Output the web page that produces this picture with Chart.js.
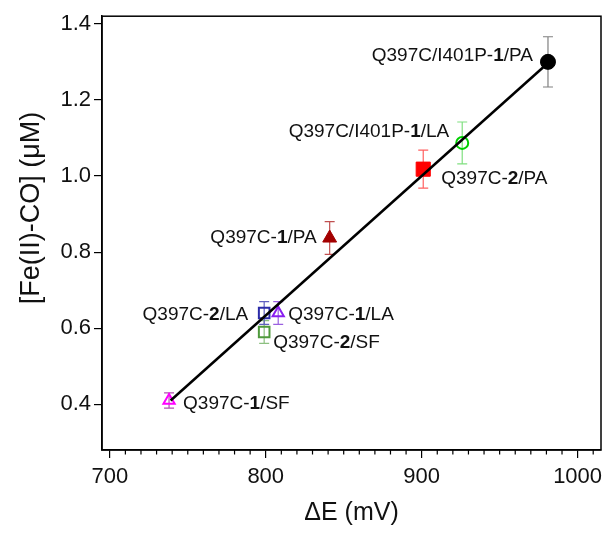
<!DOCTYPE html>
<html>
<head>
<meta charset="utf-8">
<script src="https://cdn.jsdelivr.net/npm/chart.js@4"></script>
<style>
  html, body { margin: 0; padding: 0; background: #fff; }
  #wrap { width: 612px; height: 536px; }
</style>
</head>
<body>
<div id="wrap"><canvas id="feChart" width="612" height="536"></canvas></div>
<script>
// data
const names = ['Q397C-1/SF', 'Q397C-2/SF', 'Q397C-2/LA', 'Q397C-1/LA', 'Q397C-1/PA', 'Q397C-2/PA', 'Q397C/I401P-1/LA', 'Q397C/I401P-1/PA'];
const deltaE = [738, 799, 799, 808, 841, 901, 926, 981];
const feCO = [0.41, 0.59, 0.64, 0.64, 0.837, 1.018, 1.087, 1.30];
const feErr = [0.02, 0.03, 0.03, 0.03, 0.043, 0.05, 0.055, 0.066];
const fitX = [739, 981];
const fitY = [0.41, 1.297];
const xTickValues = [700, 800, 900, 1000];
const yTickValues = [0.4, 0.6, 0.8, 1.0, 1.2, 1.4];

// marker looks, one per point
const markers = [
    { style: 'triangle', color: '#ff00ff', fill: false, r: 6.5, bar: '#b050b0' },
    { style: 'rect', color: '#4f9a3c', fill: false, r: 7.5, bar: '#8cc080' },
    { style: 'rect', color: '#2b2ba8', fill: false, r: 7.5, bar: '#6060c0' },
    { style: 'triangle', color: '#8a1ff0', fill: false, r: 6.5, bar: '#9a60e0' },
    { style: 'triangle', color: '#a30000', fill: true, r: 8, bar: '#c05050' },
    { style: 'rect', color: '#ff0000', fill: true, r: 10, bar: '#ff6060' },
    { style: 'circle', color: '#00d000', fill: false, r: 6, bar: '#80e080' },
    { style: 'circle', color: '#000000', fill: true, r: 7.5, bar: '#808080' }
];
// label placement relative to its point (px)
const labelPos = [
    { dx: 14, dy: 3, align: 'left' },
    { dx: 9, dy: 11, align: 'left' },
    { dx: -16, dy: 2, align: 'right' },
    { dx: 10, dy: 2, align: 'left' },
    { dx: -13, dy: 0, align: 'right' },
    { dx: 18, dy: 10, align: 'left' },
    { dx: -13, dy: -11, align: 'right' },
    { dx: -15, dy: -6, align: 'right' }
];

const FONT = "'Liberation Sans', Arial, sans-serif";

const pointSets = names.map((name, i) => ({
    label: name,
    data: [{ x: deltaE[i], y: feCO[i] }],
    pointStyle: markers[i].style,
    pointRadius: markers[i].r,
    pointBorderWidth: markers[i].fill ? 1 : 2,
    pointBorderColor: markers[i].color,
    pointBackgroundColor: markers[i].fill ? markers[i].color : 'rgba(0,0,0,0)',
    showLine: false,
    order: 1
}));

const fitSet = {
    label: 'fit',
    data: fitX.map((x, i) => ({ x: x, y: fitY[i] })),
    showLine: true,
    borderColor: '#000',
    borderWidth: 2.5,
    pointRadius: 0,
    order: 0
};

const errorBars = {
    id: 'errorBars',
    beforeDatasetsDraw(chart) {
        const ctx = chart.ctx
        const xs = chart.scales.x, ys = chart.scales.y
        ctx.save()
        ctx.lineWidth = 1.2
        names.forEach((n, i) => {
            const px = xs.getPixelForValue(deltaE[i])
            const top = ys.getPixelForValue(feCO[i] + feErr[i])
            const bot = ys.getPixelForValue(feCO[i] - feErr[i])
            ctx.strokeStyle = markers[i].bar
            ctx.beginPath()
            ctx.moveTo(px, top); ctx.lineTo(px, bot)
            ctx.moveTo(px - 5, top); ctx.lineTo(px + 5, top)
            ctx.moveTo(px - 5, bot); ctx.lineTo(px + 5, bot)
            ctx.stroke()
        })
        ctx.restore()
    }
};

const decorations = {
    id: 'decorations',
    afterDraw(chart) {
        const ctx = chart.ctx
        const a = chart.chartArea
        const xs = chart.scales.x, ys = chart.scales.y
        ctx.save()
        // box
        ctx.strokeStyle = '#000'
        ctx.lineWidth = 1.5
        ctx.strokeRect(a.left, a.top, a.right - a.left, a.bottom - a.top)
        // minor x ticks every 10
        ctx.lineWidth = 1.2
        ctx.beginPath()
        for (let v = 700; v <= 1010; v += 10) {
            if (v % 100 === 0) continue
            const px = xs.getPixelForValue(v)
            ctx.moveTo(px, a.bottom); ctx.lineTo(px, a.bottom + 4.5)
        }
        ctx.stroke()

        // point labels, with the compound number in bold
        ctx.fillStyle = '#111'
        ctx.textBaseline = 'middle'
        names.forEach((n, i) => {
            const m = n.match(/^(.*-)(\d)(\/.*)$/)
            const parts = [[m[1], false], [m[2], true], [m[3], false]]
            const fontOf = b => (b ? 'bold ' : '') + '19px ' + FONT
            let total = 0
            parts.forEach(p => { ctx.font = fontOf(p[1]); total += ctx.measureText(p[0]).width })
            const lp = labelPos[i]
            let x = xs.getPixelForValue(deltaE[i]) + lp.dx
            const y = ys.getPixelForValue(feCO[i]) + lp.dy
            if (lp.align === 'right') x -= total
            ctx.textAlign = 'left'
            parts.forEach(p => {
                ctx.font = fontOf(p[1])
                ctx.fillText(p[0], x, y)
                x += ctx.measureText(p[0]).width
            })
        })

        // axis titles
        ctx.font = '25px ' + FONT
        ctx.textAlign = 'center'
        ctx.fillText('\u0394E (mV)', (a.left + a.right) / 2, 513)
        ctx.translate(32, 208)
        ctx.rotate(-Math.PI / 2)
        ctx.font = '27px ' + FONT
        ctx.fillText('[Fe(II)-CO] (\u03bcM)', 0, 0)
        ctx.restore()
    }
};

const ctx = document.getElementById('feChart').getContext('2d')
new Chart(ctx, {
    type: 'scatter',
    data: { datasets: [...pointSets, fitSet] },
    options: {
        responsive: false,
        animation: false,
        layout: { padding: { top: 13, right: 11, left: 0, bottom: 0 } },
        plugins: { legend: { display: false }, tooltip: { enabled: false } },
        scales: {
            x: {
                type: 'linear',
                min: 695,
                max: 1015,
                afterBuildTicks: s => { s.ticks = xTickValues.map(v => ({ value: v })) },
                afterFit: s => { s.height = 86 },
                grid: { drawOnChartArea: false, tickLength: 8, color: '#000', lineWidth: 1.2 },
                border: { color: '#000', width: 1.5 },
                ticks: { font: { family: FONT, size: 22 }, color: '#111', padding: 6, maxRotation: 0, callback: v => String(v) }
            },
            y: {
                type: 'linear',
                min: 0.28,
                max: 1.42,
                afterBuildTicks: s => { s.ticks = yTickValues.map(v => ({ value: v })) },
                afterFit: s => { s.width = 102 },
                grid: { drawOnChartArea: false, tickLength: 8, color: '#000', lineWidth: 1.2 },
                border: { color: '#000', width: 1.5 },
                ticks: {
                    font: { family: FONT, size: 22 },
                    color: '#111',
                    padding: 3,
                    callback: v => v.toFixed(1)
                }
            }
        }
    },
    plugins: [errorBars, decorations]
});
</script>
</body>
</html>
